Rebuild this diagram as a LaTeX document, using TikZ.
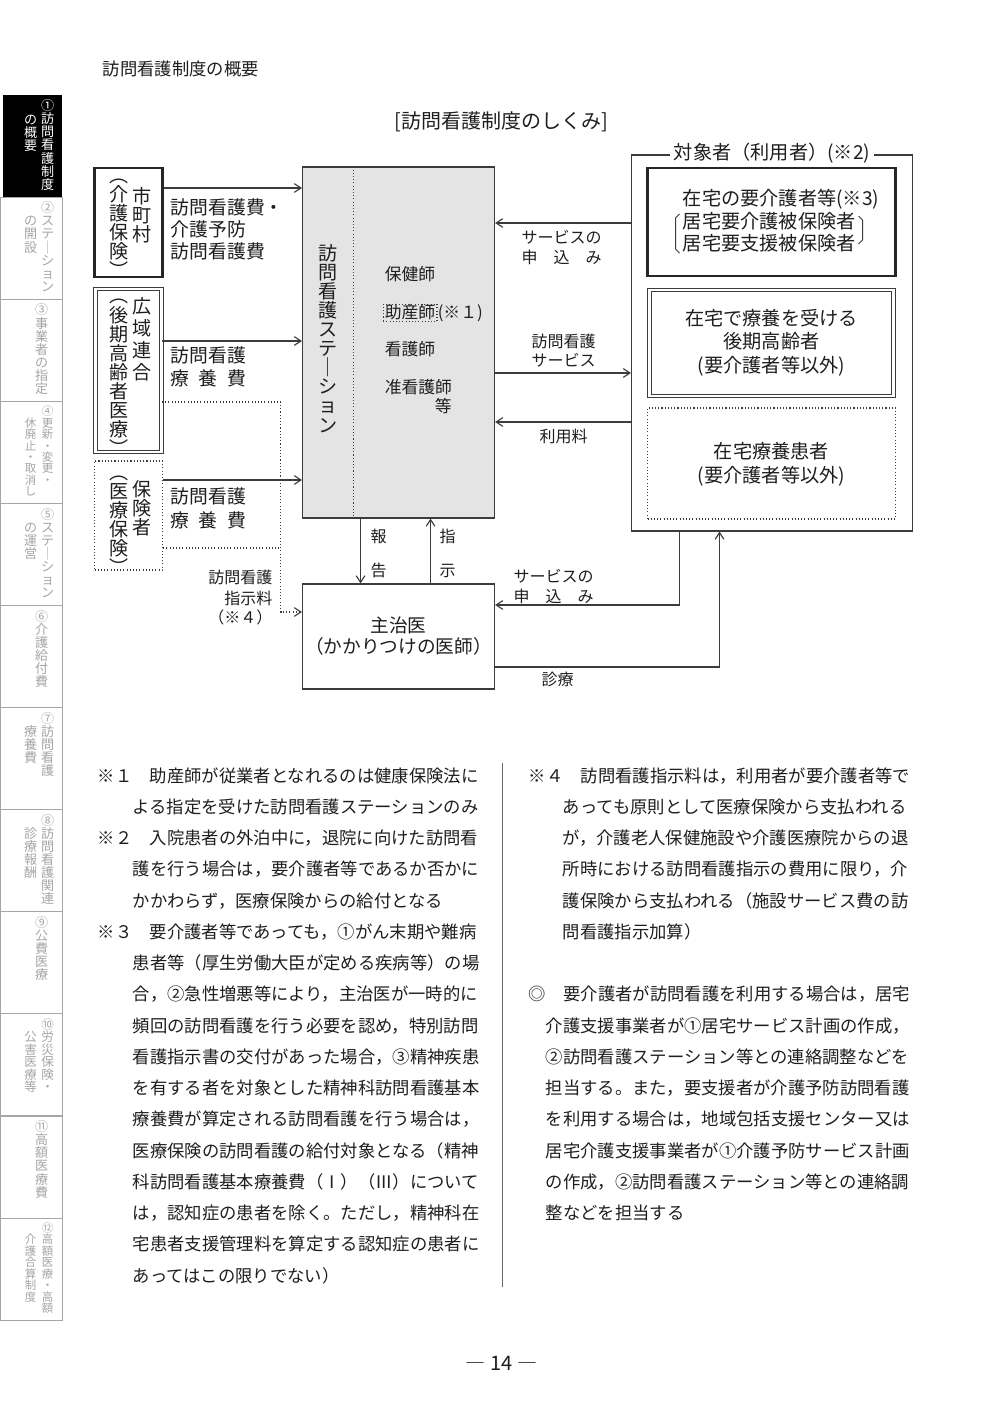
\documentclass[tikz,border=0pt]{standalone}
\usepackage{fontspec}
\setmainfont{Noto Sans CJK JP}
\usetikzlibrary{arrows.meta,fit,calc}
\definecolor{stgray}{HTML}{E4E4E4}
\definecolor{lncol}{HTML}{3C3C3C}
\definecolor{tabgray}{HTML}{A6A6A6}
\definecolor{txtcol}{HTML}{1E1E1E}
% vertical text: one character per cell
\makeatletter
\newcommand\tate[2][1]{\edef\tate@arg{#2}\vbox{\baselineskip=#1em\lineskiplimit=-\maxdimen\lineskip=0pt
  \expandafter\tate@i\tate@arg\@nil}}
\def\tate@i#1#2\@nil{\hbox to 1em{\hss\vrule height .88em depth .12em width 0pt #1\hss}%
  \ifx\relax#2\relax\else\tate@i#2\@nil\fi}
\makeatother
\tikzset{
  ln/.style={draw=lncol, line width=.85pt},
  arr/.style={ln, -{Straight Barb[length=5pt,width=6.5pt]}},
  dotpat/.style={dash pattern=on .8pt off 1.6pt},
  dotln/.style={ln, dotpat},
  dotarr/.style={arr, dotpat},
  plainbox/.style={ln, inner sep=0pt},
  thickbox/.style={draw=black!85, line width=1.9pt, inner sep=0pt},
  dblbox/.style={draw=lncol, line width=.7pt, double, double distance=2.2pt, inner sep=0pt},
  dotbox/.style={ln, dotpat, inner sep=0pt},
  txt/.style={inner sep=0pt, text=txtcol, text height=.88em, text depth=.12em},
  body/.style={txt, anchor=west, font=\fontsize{13}{16}\selectfont},
  lblL/.style={txt, anchor=west, font=\fontsize{14.1}{17}\selectfont},
  lblS/.style={txt, font=\fontsize{12}{14}\selectfont},
  boxtxt/.style={txt, font=\fontsize{14.4}{17}\selectfont},
  staff/.style={txt, anchor=west, font=\fontsize{12.6}{15}\selectfont},
  vt/.style={inner sep=0pt, text=txtcol, font=\fontsize{14.3}{17}\selectfont},
  tabtxt/.style={inner sep=0pt, text=tabgray, font=\fontsize{9.8}{10}\selectfont, anchor=north},
  tabbox/.style={draw=tabgray, line width=.8pt},
}

\begin{document}
\begin{tikzpicture}[x=0.75pt,y=-0.75pt]
  \fill[white] (0,0) rectangle (1000,1412);

  % side tabs
  \foreach \k in {1,...,11}
    \draw[tabbox] (-2,{95+102.1*\k}) rectangle (60,{95+102.1*(\k+1)});
  \fill[black] (0,95) rectangle (59,197);
  \node[tabtxt, text=white] (tr0) at (45,99) {\tate{①訪問看護制度}};
  \node[tabtxt, text=white] (tl0) at (28,112.3) {\tate{の概要}};
  \foreach \k/\fs/\rc/\lc in {1/9.8/②ステ｜ション/の開設, 3/8.6/④更新・変更・/休廃止・取消し,
      4/9.8/⑤ステ｜ション/の運営, 6/9.8/⑦訪問看護/療養費, 7/9.8/⑧訪問看護関連/診療報酬,
      9/9.4/⑩労災保険・/公害医療等, 11/8.6/⑫高額医療・高額/介護合算制度} {
    \node[tabtxt, font=\fontsize{\fs}{\fs}\selectfont] (tr\k) at (45,{95+102.1*\k+4}) {\tate{\rc}};
    \node[tabtxt, font=\fontsize{\fs}{\fs}\selectfont] (tl\k) at (28,{95+102.1*\k+4+1.333*\fs}) {\tate{\lc}};
  }
  \foreach \k/\rc in {2/③事業者の指定, 5/⑥介護給付費, 8/⑨公費医療, 10/⑪高額医療費}
    \node[tabtxt] (tr\k) at (39,{95+102.1*\k+4}) {\tate{\rc}};

  % headings
  \node[txt, anchor=west, font=\fontsize{13}{16}\selectfont] (head) at (100,70) {訪問看護制度の概要};
  \node[txt, font=\fontsize{15}{18}\selectfont] (title) at (499,123) {[訪問看護制度のしくみ]};

  % insurers
  \node[thickbox, fit={(92,168) (160,277)}] (mc) {};
  \node[dblbox, fit={(93,289) (159,452)}] (kk) {};
  \node[dotbox, fit={(92,461) (160,570)}] (hk) {};
  \node[vt] (mcR) at (139,215) {\tate{市町村}};
  \node[vt] (mcL) at (116,223) {\tate{︵介護保険︶}};
  \node[vt] (kkR) at (139,339) {\tate[1.15]{広域連合}};
  \node[vt] (kkL) at (116,372) {\tate{︵後期高齢者医療︶}};
  \node[vt] (hkR) at (139,508) {\tate{保険者}};
  \node[vt] (hkL) at (116,520) {\tate{︵医療保険︶}};

  % station
  \node[plainbox, fill=stgray, fit={(300,167) (492,518)}] (st) {};
  \draw[dotln] (st.north -| 351,0) -- (st.south -| 351,0);
  \node[vt] (stT) at (325,339) {\tate{訪問看護ステ｜ション}};
  \node[staff] (s1) at (382,275) {保健師};
  \node[staff, dotbox, inner xsep=1.3pt, inner ysep=1.6pt] (s2) at (380,313) {助産師};
  \node[staff] (s2n) at (s2.east) {(※１)};
  \node[staff] (s3) at (382,350) {看護師};
  \node[staff] (s4) at (382,388) {准看護師};
  \node[staff] (s5) at (432,407) {等};

  % doctor
  \node[plainbox, fit={(300,584) (492,689)}] (dr) {};
  \node[boxtxt, font=\fontsize{14}{17}\selectfont] (drA) at (396,627) {主治医};
  \node[boxtxt, font=\fontsize{14}{17}\selectfont] (drB) at (396,648) {（かかりつけの医師）};

  % users
  \node[plainbox, fit={(629,155) (910,531)}] (tg) {};
  \node[boxtxt, fill=white, inner xsep=3pt] (tgT) at (tg.north) {対象者（利用者）(※2)};
  \node[thickbox, fit={(645,168) (893,276)}] (ba) {};
  \node[boxtxt, anchor=west] (ba1) at (680,200) {在宅の要介護者等(※3)};
  \node[boxtxt, anchor=west] (ba2) at (680,223) {居宅要介護被保険者};
  \node[boxtxt, anchor=west] (ba3) at (680,245) {居宅要支援被保険者};
  \draw[lncol, line width=.7pt] (677,214) -- (673,218) -- (673,249) -- (677,253);
  \draw[lncol, line width=.7pt] (856,216) -- (860,220) -- (860,240) -- (856,244);
  \node[dblbox, fit={(647,290) (891,396)}] (bb) {};
  \node[boxtxt] (bb1) at (769,320) {在宅で療養を受ける};
  \node[boxtxt] (bb2) at (769,343) {後期高齢者};
  \node[boxtxt] (bb3) at (769,367) {(要介護者等以外)};
  \node[dotbox, fit={(645,408) (893,519)}] (bc) {};
  \node[boxtxt] (bc1) at (769,453) {在宅療養患者};
  \node[boxtxt] (bc2) at (769,477) {(要介護者等以外)};

  % payments to the station
  \draw[arr] (mc.east |- 0,188) -- (st.west |- 0,188);
  \draw[arr] (kk.east |- 0,341) -- (st.west |- 0,341);
  \draw[arr] (hk.east |- 0,480) -- (st.west |- 0,480);
  \node[lblL] (p1) at (168,209) {訪問看護費・};
  \node[lblL] (p2) at (168,231) {介護予防};
  \node[lblL] (p3) at (168,253) {訪問看護費};
  \node[lblL] (p4) at (168,357) {訪問看護};
  \node[lblL] (p5) at (168,380) {\makebox[4em][s]{療\hfill 養\hfill 費}};
  \node[lblL] (p6) at (168,498) {訪問看護};
  \node[lblL] (p7) at (168,522) {\makebox[4em][s]{療\hfill 養\hfill 費}};

  % instruction fee (dotted)
  \coordinate (dk) at (0,402);
  \coordinate (dj) at (278,480);
  \coordinate (dh) at (278,548);
  \draw[dotln] (kk.east |- dk) -| (dj);
  \draw[dotln] (hk.east |- dh) -- (dh);
  \draw[dotarr] (dj) |- (dr.west |- 0,612);
  \node[lblS, anchor=east] (f1) at (270,578) {訪問看護};
  \node[lblS, anchor=east] (f2) at (270,599) {指示料};
  \node[lblS, anchor=east] (f3) at (270,618) {（※４）};

  % station <-> doctor
  \draw[arr] (st.south -| 358,0) -- (dr.north -| 358,0);
  \draw[arr] (dr.north -| 428,0) -- (st.south -| 428,0);
  \node[lblS] (r1) at (376,537) {報};
  \node[lblS] (r2) at (376,571) {告};
  \node[lblS] (r3) at (445,537) {指};
  \node[lblS] (r4) at (445,571) {示};

  % station <-> users
  \draw[arr] (tg.west |- 0,223) -- (st.east |- 0,223);
  \draw[arr] (st.east |- 0,373) -- (tg.west |- 0,373);
  \draw[arr] (tg.west |- 0,422) -- (st.east |- 0,422);
  \node[lblS] (u1) at (559,238) {サービスの};
  \node[lblS] (u2) at (559,258) {申　込　み};
  \node[lblS] (u3) at (561,342) {訪問看護};
  \node[lblS] (u4) at (561,361) {サービス};
  \node[lblS] (u5) at (561,437) {利用料};

  % doctor <-> users
  \draw[arr] (tg.south -| 677,0) |- (dr.east |- 0,605);
  \draw[arr] (dr.east |- 0,667) -| (tg.south -| 717,0);
  \node[lblS] (d1) at (551,577) {サービスの};
  \node[lblS] (d2) at (551,597) {申　込　み};
  \node[lblS] (d3) at (555,680) {診療};

  % notes
  \draw[draw=black!60, line width=1pt] (500,763) -- (500,1287);
  \foreach \k/\xx/\tx in {
    0/95/※１　助産師が従業者となれるのは健康保険法に,
    1/130/よる指定を受けた訪問看護ステーションのみ,
    2/95/※２　入院患者の外泊中に，退院に向けた訪問看,
    3/130/護を行う場合は，要介護者等であるか否かに,
    4/130/かかわらず，医療保険からの給付となる,
    5/95/※３　要介護者等であっても，①がん末期や難病,
    6/130/患者等（厚生労働大臣が定める疾病等）の場,
    7/130/合，②急性増悪等により，主治医が一時的に,
    8/130/頻回の訪問看護を行う必要を認め，特別訪問,
    9/130/看護指示書の交付があった場合，③精神疾患,
    10/130/を有する者を対象とした精神科訪問看護基本,
    11/130/療養費が算定される訪問看護を行う場合は，,
    12/130/医療保険の訪問看護の給付対象となる（精神,
    13/130/科訪問看護基本療養費（Ⅰ）（Ⅲ）について,
    14/130/は，認知症の患者を除く。ただし，精神科在,
    15/130/宅患者支援管理料を算定する認知症の患者に,
    16/130/あってはこの限りでない）}
    \node[body] (L\k) at (\xx,{777+31.25*\k}) {\tx};
  \foreach \k/\xx/\tx in {
    0/526/※４　訪問看護指示料は，利用者が要介護者等で,
    1/560/あっても原則として医療保険から支払われる,
    2/560/が，介護老人保健施設や介護医療院からの退,
    3/560/所時における訪問看護指示の費用に限り，介,
    4/560/護保険から支払われる（施設サービス費の訪,
    5/560/問看護指示加算）,
    7/526/◎　要介護者が訪問看護を利用する場合は，居宅,
    8/543/介護支援事業者が①居宅サービス計画の作成，,
    9/543/②訪問看護ステーション等との連絡調整などを,
    10/543/担当する。また，要支援者が介護予防訪問看護,
    11/543/を利用する場合は，地域包括支援センター又は,
    12/543/居宅介護支援事業者が①介護予防サービス計画,
    13/543/の作成，②訪問看護ステーション等との連絡調,
    14/543/整などを担当する}
    \node[body] (R\k) at (\xx,{777+31.25*\k}) {\tx};

  \node[txt, font=\fontsize{15}{18}\selectfont] (pg) at (499,1365) {― 14 ―};
\end{tikzpicture}
\end{document}
